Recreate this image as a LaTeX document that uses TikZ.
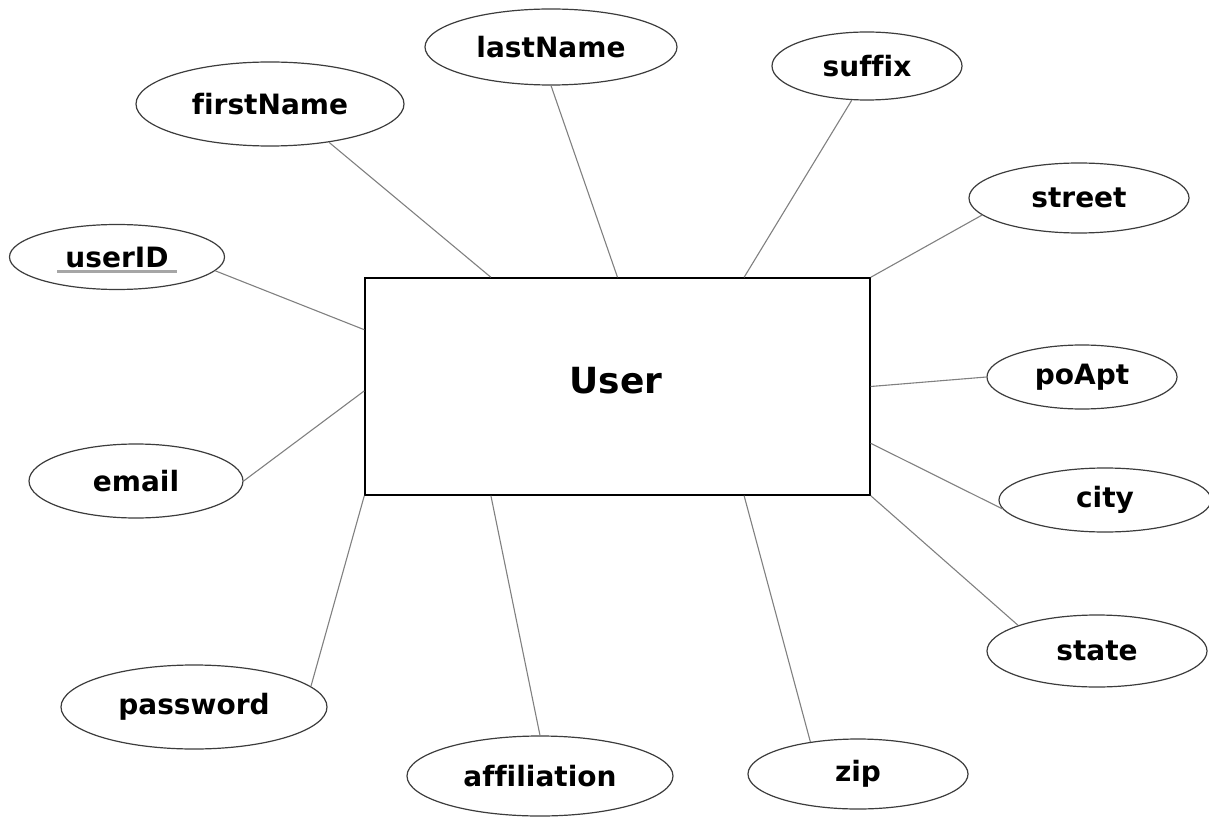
\documentclass[tikz,border=0pt]{standalone}
\usepackage{fontspec}
\setmainfont[Ligatures=NoCommon]{DejaVu Sans}
\usepackage{tikz}
\usetikzlibrary{shapes.geometric, calc}
\definecolor{LinkGray}{RGB}{128,128,128}
\definecolor{EdgeDark}{RGB}{60,60,60}
\tikzset{
  entity/.style={rectangle, draw=black, line width=1.4pt, fill=white,
                 minimum width=505pt, minimum height=217pt,
                 font=\fontsize{36}{40}\selectfont\bfseries},
  attr/.style={ellipse, draw=EdgeDark, line width=1.2pt, fill=white, inner sep=0pt,
               minimum width=#1, minimum height=68pt,
               font=\fontsize{28}{32}\selectfont\bfseries},
  link/.style={draw=LinkGray, line width=1.1pt},
  keyline/.style={draw=LinkGray!70, line width=3pt},
}
\begin{document}
\begin{tikzpicture}[x=1pt, y=-1pt]
  \useasboundingbox (0,0) rectangle (1209,818);

  % entity
  \node[entity] (user) at (617.5,386.5) {};
  \node[font=\fontsize{36}{40}\selectfont\bfseries] (userlbl) at (616,381) {User};

  % attributes
  \node[attr=268pt, minimum height=84pt] (firstName) at (270,104) {firstName};
  \node[attr=252pt, minimum height=76pt] (lastName)  at (551,47)  {lastName};
  \node[attr=190pt] (suffix)   at (867,66)  {suffix};
  \node[attr=220pt, minimum height=70pt] (street) at (1079,198) {street};
  \node[attr=215pt, minimum height=65pt] (userID) at (117,257) {userID};
  \node[attr=190pt, minimum height=64pt] (poApt)  at (1082,377) {poApt};
  \node[attr=214pt, minimum height=74pt] (email)  at (136,481) {email};
  \node[attr=212pt, minimum height=64pt] (city)   at (1105,500) {city};
  \node[attr=220pt, minimum height=72pt] (state)  at (1097,651) {state};
  \node[attr=266pt, minimum height=84pt] (password) at (194,707) {password};
  \node[attr=266pt, minimum height=80pt] (affiliation) at (540,776) {affiliation};
  \node[attr=220pt, minimum height=70pt] (zip)    at (858,774) {zip};

  % key underline
  \draw[keyline] ($(userID.center)+(-60,14)$) -- ($(userID.center)+(60,14)$);

  % connectors
  \draw[link] (firstName.-33) -- ($(user.north west)!0.25!(user.north east)$);
  \draw[link] (lastName.south) -- (user.north);
  \draw[link] (suffix.-114)   -- ($(user.north west)!0.75!(user.north east)$);
  \draw[link] (street.190)    -- (user.north east);
  \draw[link] (userID.-8)     -- ($(user.north west)!0.24!(user.south west)$);
  \draw[link] (email.east)    -- ($(user.north west)!0.52!(user.south west)$);
  \draw[link] (poApt.west)    -- (user.east);
  \draw[link] (city.185)      -- ($(user.north east)!0.76!(user.south east)$);
  \draw[link] (state.162)     -- (user.south east);
  \draw[link] (password.10)   -- (user.south west);
  \draw[link] (affiliation.north) -- ($(user.south west)!0.25!(user.south east)$);
  \draw[link] (zip.146)       -- ($(user.south west)!0.75!(user.south east)$);
\end{tikzpicture}
\end{document}
